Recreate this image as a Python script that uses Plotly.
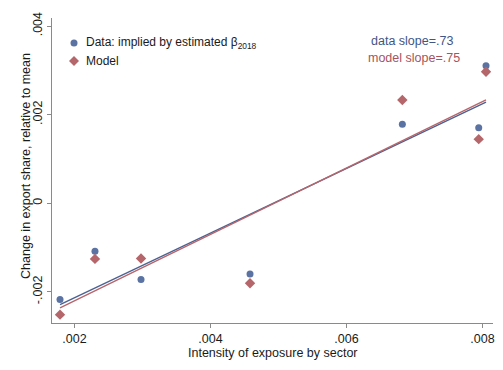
import numpy as np
import plotly.graph_objects as go

# Sector exposure intensity and change in export share (relative to mean)
exposure = [0.001787, 0.002301, 0.002978, 0.004581, 0.006821, 0.007944, 0.008051]
data_change = [-0.002176, -0.001085, -0.001724, -0.001597, 0.001785, 0.001702, 0.003103]
model_change = [-0.002516, -0.001258, -0.001250, -0.001808, 0.002328, 0.001446, 0.002967]

# Reported slopes of the fitted lines
data_slope = 0.73
model_slope = 0.75

x_ticks = [0.002, 0.004, 0.006, 0.008]
x_tick_labels = [".002", ".004", ".006", ".008"]
y_ticks = [-0.002, 0.0, 0.002, 0.004]
y_tick_labels = ["-.002", "0", ".002", ".004"]

BLUE = "#5a73a3"
BLUE_LINE = "#4a6293"
RED = "#b5666a"
RED_LINE = "#b8656a"
TEXT = "#1a1a1a"
FONT = "Liberation Sans, Arial, sans-serif"


def fit_line(x, y, slope):
    x = np.asarray(x)
    y = np.asarray(y)
    intercept = y.mean() - slope * x.mean()
    xs = np.array([x.min(), x.max()])
    return xs, intercept + slope * xs


def fmt_slope(v):
    return f"{v:.2f}".lstrip("0")


fig = go.Figure()

dx, dy = fit_line(exposure, data_change, data_slope)
mx, my = fit_line(exposure, model_change, model_slope)

fig.add_trace(go.Scatter(x=dx, y=dy, mode="lines",
                         line=dict(color=BLUE_LINE, width=1.4), showlegend=False))
fig.add_trace(go.Scatter(x=mx, y=my, mode="lines",
                         line=dict(color=RED_LINE, width=1.4), showlegend=False))
fig.add_trace(go.Scatter(x=exposure, y=data_change, mode="markers",
                         marker=dict(symbol="circle", size=7, color=BLUE),
                         name="Data", showlegend=False))
fig.add_trace(go.Scatter(x=exposure, y=model_change, mode="markers",
                         marker=dict(symbol="diamond", size=8, color=RED),
                         name="Model", showlegend=False))

# Hand-placed legend (symbol + label)
fig.add_shape(type="circle", xref="paper", yref="paper",
              xsizemode="pixel", ysizemode="pixel",
              xanchor=0.0499, yanchor=0.918,
              x0=-3.5, x1=3.5, y0=-3.5, y1=3.5,
              fillcolor=BLUE, line=dict(width=0))
fig.add_shape(type="path", xref="paper", yref="paper",
              xsizemode="pixel", ysizemode="pixel",
              xanchor=0.0499, yanchor=0.859,
              path="M0,-5 L5,0 L0,5 L-5,0 Z",
              fillcolor=RED, line=dict(width=0))

fig.add_annotation(x=0.0726, y=0.918, xref="paper", yref="paper",
                   xanchor="left", yanchor="middle", showarrow=False,
                   text="Data: implied by estimated β<sub>2018</sub>",
                   font=dict(family=FONT, size=12, color=TEXT))
fig.add_annotation(x=0.0726, y=0.859, xref="paper", yref="paper",
                   xanchor="left", yanchor="middle", showarrow=False,
                   text="Model",
                   font=dict(family=FONT, size=12, color=TEXT))

fig.add_annotation(x=0.816, y=0.925, xref="paper", yref="paper",
                   xanchor="center", yanchor="middle", showarrow=False,
                   text=f"data slope={fmt_slope(data_slope)}",
                   font=dict(family=FONT, size=12.5, color="#3f5687"))
fig.add_annotation(x=0.821, y=0.869, xref="paper", yref="paper",
                   xanchor="center", yanchor="middle", showarrow=False,
                   text=f"model slope={fmt_slope(model_slope)}",
                   font=dict(family=FONT, size=12.5, color="#a8545a"))

# Axis titles
fig.add_annotation(x=-0.059, y=0.515, xref="paper", yref="paper",
                   xanchor="center", yanchor="middle", showarrow=False,
                   textangle=-90,
                   text="Change in export share, relative to mean",
                   font=dict(family=FONT, size=12.5, color=TEXT))
fig.add_annotation(x=0.501, y=-0.0975, xref="paper", yref="paper",
                   xanchor="center", yanchor="middle", showarrow=False,
                   text="Intensity of exposure by sector",
                   font=dict(family=FONT, size=12.5, color=TEXT))

axis_common = dict(
    showgrid=False, zeroline=False, showline=True,
    linecolor="#8a8a8a", linewidth=1,
    ticks="outside", ticklen=4, tickcolor="#8a8a8a", tickwidth=1,
    tickfont=dict(family=FONT, size=12.5, color=TEXT),
)

fig.update_xaxes(
    range=[0.001669, 0.008154],
    tickvals=x_ticks, ticktext=x_tick_labels,
    **axis_common,
)
fig.update_yaxes(
    range=[-0.002705, 0.004181],
    tickvals=y_ticks, ticktext=y_tick_labels, tickangle=-90,
    **axis_common,
)

fig.update_layout(
    width=503, height=370,
    margin=dict(l=52, r=10, t=18, b=47, autoexpand=False),
    paper_bgcolor="white", plot_bgcolor="white",
    font=dict(family=FONT),
)

fig.write_html("out.html")
